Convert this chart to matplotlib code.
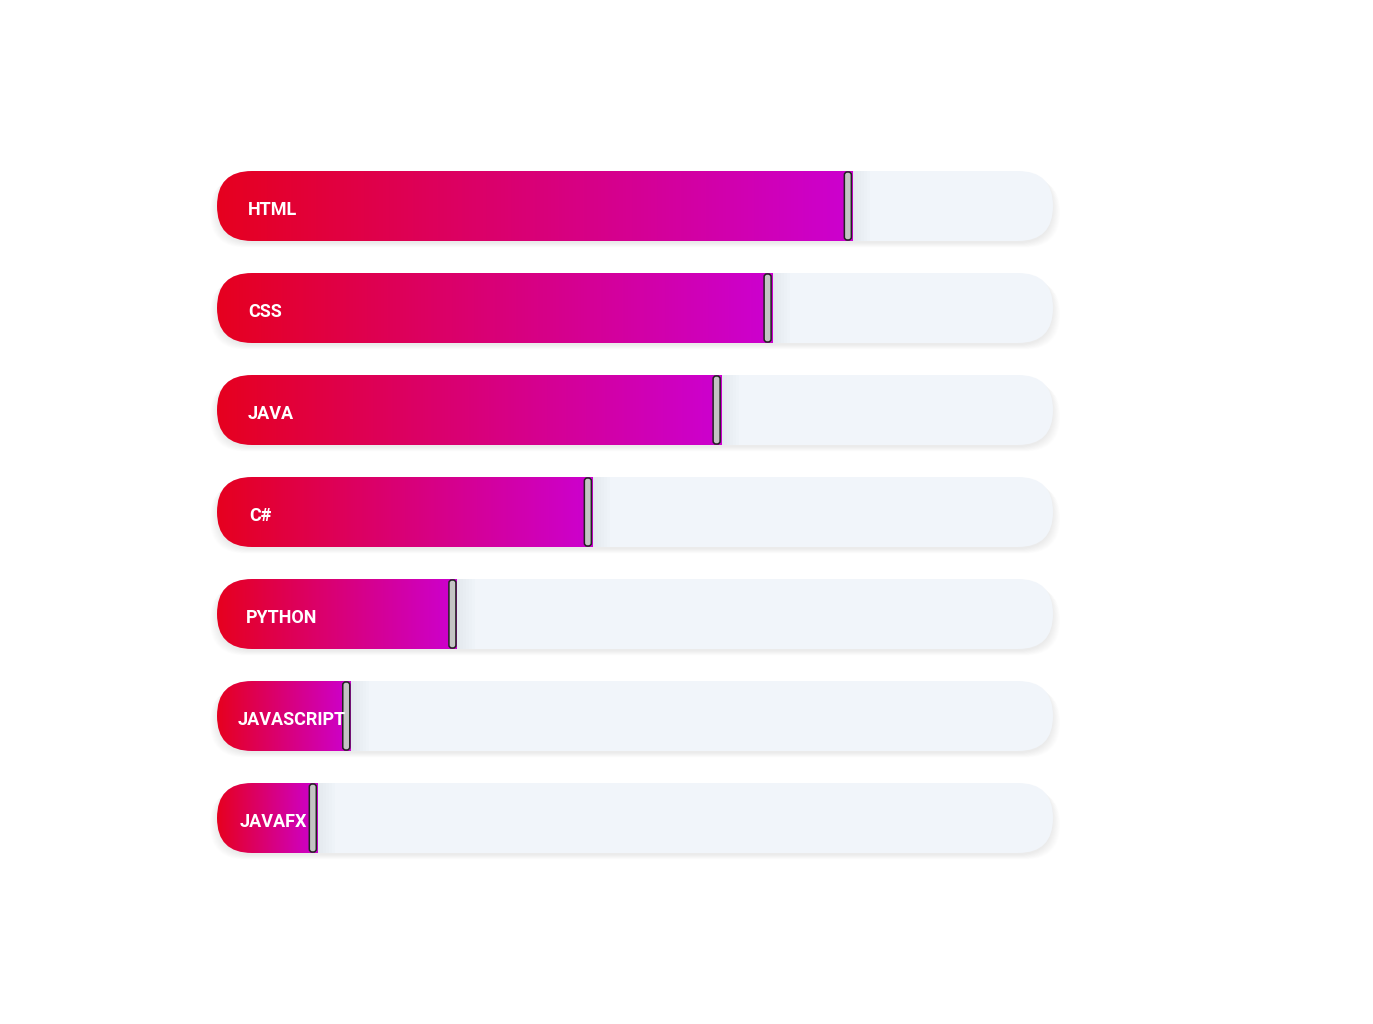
import matplotlib
matplotlib.use("Agg")
import matplotlib.pyplot as plt
import numpy as np
from matplotlib.patches import FancyBboxPatch
from matplotlib.colors import LinearSegmentedColormap

# skill levels in percent
skills = ["HTML", "CSS", "JAVA", "C#", "PYTHON", "JAVASCRIPT", "JAVAFX"]
levels = [76, 66.4, 60.3, 44.9, 28.7, 16, 12]

# label left offsets (px from track start)
label_dx = [31, 31, 31, 32, 29, 21, 23]

W, H = 1373, 1024
X0, TRACK_W = 217, 836
BAR_H = 70
Y_FIRST = 171
STEP = 102
R = 35

cmap = LinearSegmentedColormap.from_list("skill", ["#e6001f", "#cc00d0"])

fig = plt.figure(figsize=(W / 100, H / 100), dpi=100)
ax = fig.add_axes([0, 0, 1, 1])
ax.set_xlim(0, W)
ax.set_ylim(H, 0)
ax.axis("off")

grad = np.linspace(0, 1, 256).reshape(1, -1)

for i, (name, lvl) in enumerate(zip(skills, levels)):
    y = Y_FIRST + i * STEP

    # soft shadow under the track
    for k in range(10):
        sh = FancyBboxPatch((X0 - k * 0.8, y + 2 + k * 0.5), TRACK_W + k * 1.6, BAR_H,
                            boxstyle=f"round,pad=0,rounding_size={R}",
                            fc="#000000", ec="none", alpha=0.006, zorder=1)
        ax.add_patch(sh)

    track = FancyBboxPatch((X0, y), TRACK_W, BAR_H,
                           boxstyle=f"round,pad=0,rounding_size={R}",
                           fc="#f1f5fa", ec="none", zorder=2)
    ax.add_patch(track)

    end = X0 + TRACK_W * lvl / 100

    # faint shade right of the handle
    for k in range(6):
        ax.add_patch(plt.Rectangle((end, y), 3 + k * 3, BAR_H, fc="#c8d0dc",
                                   ec="none", alpha=0.05, zorder=2.5,
                                   clip_path=track))

    im = ax.imshow(grad, cmap=cmap, aspect="auto", extent=[X0, end, y + BAR_H, y],
                   interpolation="bicubic", zorder=3)
    im.set_clip_path(track)

    handle = FancyBboxPatch((end - 8, y + 1), 7, BAR_H - 2,
                            boxstyle="round,pad=0,rounding_size=3",
                            fc="#c4c4c4", ec="#222222", lw=1.1, zorder=4)
    ax.add_patch(handle)

    ax.text(X0 + label_dx[i], y + BAR_H / 2 + 4, name, color="white",
            fontsize=13, fontweight="bold", family=["Roboto", "DejaVu Sans"],
            ha="left", va="center", zorder=5)

fig.savefig("out.png", dpi=100, facecolor="white")
